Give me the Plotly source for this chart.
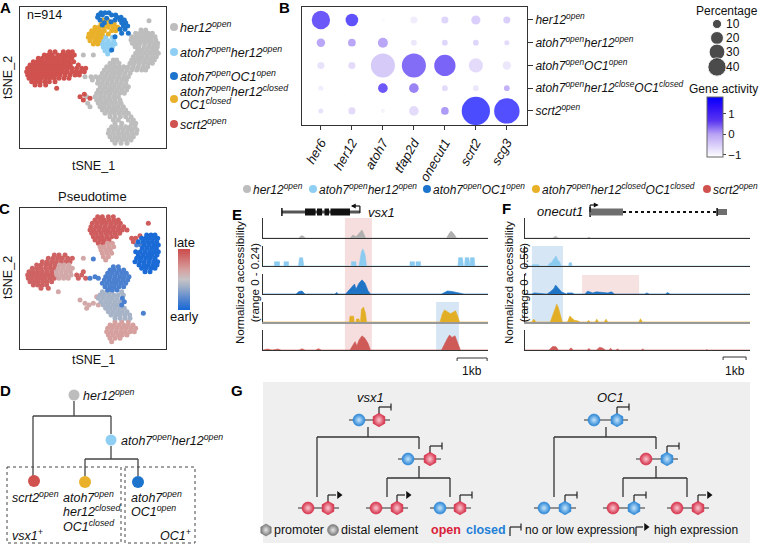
import plotly.graph_objects as go

W, H = 761, 544
FONT = "Arial, Liberation Sans, sans-serif"


def fx(p):
    return p / W


def fy(p):
    return 1 - p / H


def rows_to_xy(spec):
    xs, ys = [], []
    for row in spec.split("|"):
        yv, xl = row.split(":")
        for xv in xl.split():
            xs.append(float(xv))
            ys.append(float(yv))
    return xs, ys


def pairs(spec):
    xs, ys = [], []
    for p in spec.split():
        a, b = p.split(",")
        xs.append(float(a))
        ys.append(float(b))
    return xs, ys


# ======================= DATA =======================
# Panel A: tSNE embedding, points per chromatin-state group (arbitrary tSNE units, tSNE_2 grows downward)
A_her12_open = (
    "62:402|90:378 392|100:362 375 388 400 412|110:350 362 374 386 398 410 420|"
    "120:348 360 372 384 396 408 422|130:352 364 376 390 404 418 428|140:360 372 388 402 415 427|"
    "150:368 382 396 410 424|160:362 376 390 404 418 430|170:355 368 382 396 410 424|"
    "180:295 305 350 362 376 390 404 418|190:285 298 312 345 358 372 386 400 412|"
    "200:275 288 300 313 326 340 355 370 385 398|210:268 282 295 308 320 335 350 365 380 392|"
    "220:262 276 290 303 316 330 345|230:210 228 242 256 270 284 298 312 326 340|"
    "240:232 250 264 278 292 306 320 334|250:248 262 276 290 304 318 332|"
    "260:256 270 284 298 312 326 340|270:250 264 278 292 306 320 335|280:245 258 272 286 300 314 328|"
    "290:215 240 254 268 282 296 310|300:245 258 272 286 300 315|310:218 250 263 276 290 304 318|"
    "320:225 255 268 282 296 310 325|330:262 276 290 304 318 332|340:270 284 298 312 326 340|"
    "350:285 300 316 332 348|360:295 310 340 355|370:300 320 350 362|380:290 304 318 332 346 360|"
    "390:282 296 310 324 338 352 366|400:280 294 308 322 336 350 364|410:285 299 313 327 341 355|"
    "420:292 306 320 334 348|430:300 318 336|165:205 235"
)
A_scrt2_open = (
    "155:105 120 145 160 172|165:88 100 112 128 140 152 165 178|175:70 82 95 108 120 133 146 158 170|"
    "185:55 66 78 90 102 115 127 139 150 163 176|195:45 57 69 81 93 105 117 129 141 153 166 190|"
    "205:38 50 62 74 86 98 110 122 134 146 158 171 185 200 212|"
    "215:35 47 59 71 83 95 107 119 131 143 156 170 183 196 208|"
    "225:38 50 62 74 86 98 110 122 135 150 165 180 193|235:42 55 67 79 92 104 118 132 147 162|"
    "245:50 63 76 90 103 120|255:60 75 92|265:125|290:195|283:208|295:225|300:205"
)
A_atoh7_her12 = "112:272 292|122:265 280 296|132:262 275 288 300|142:265 278 292|152:270 284|162:278"
A_atoh7_closed = (
    "60:265 278|72:258 272 285 298|82:240 252 266 280 295 308|92:230 242 255 268 290 302|"
    "102:222 235 248 262 280|112:220 232 245 258|122:225 240 252|132:235 248"
)
A_atoh7_OC1 = (
    "38:258 270 282|45:250 262 290 302|52:248 306 318|60:255 300 315 328|68:268 320 332|"
    "78:325 338|88:315 330|100:320 340|110:300|150:290|55:275|65:288|75:262"
)

# Panel B: dot plot
B_genes = ["her6", "her12", "atoh7", "tfap2d", "onecut1", "scrt2", "scg3"]
B_groups = [
    "her12<sup>open</sup>",
    "atoh7<sup>open</sup>her12<sup>open</sup>",
    "atoh7<sup>open</sup>OC1<sup>open</sup>",
    "atoh7<sup>open</sup>her12<sup>close</sup>OC1<sup>closed</sup>",
    "scrt2<sup>open</sup>",
]
B_pct = [
    [40, 19, 2, 6, 6, 10, 6],
    [8.5, 7, 12, 4, 4, 4, 3],
    [6, 6, 69, 69, 54, 24, 8.5],
    [3, 0.5, 11, 11, 4, 4, 4],
    [3, 6, 2, 11, 7, 95, 77],
]
B_act = [
    [1.3, 1.5, -1.0, -0.8, -0.4, -0.3, -0.3],
    [0.2, 0.2, 0.2, -0.7, -0.4, -0.4, -0.5],
    [-0.6, -0.5, -0.2, 0.8, 1.0, -0.5, -0.7],
    [-0.8, -1.0, 1.3, 0.5, -0.5, -0.7, 0.1],
    [-0.6, -0.5, -0.9, -0.5, 0.3, 1.8, 1.7],
]
B_size_legend = [10, 20, 30, 40]
B_act_ticks = [-1, 0, 1]

# Panel C: tSNE coloured by pseudotime (0 = early, 1 = late)
C_groups = [
    (0.92, "35:248 262 280 295|45:240 254 268 282 296 310|55:232 246 260 274 288 302 316|"
           "65:228 242 256 270 284 298 312 326|75:225 238 252 266 280 294 308 322 336|"
           "85:230 244 258 272 286 300 314|95:235 248 262 276 290 304|105:240 254 268 282|"
           "115:250 264|55:400|100:350 362|92:375|110:355"),
    (0.66, "115:278 292|125:255 268 282 296|135:258 272 286|145:262 276 290|155:265 280|165:272"),
    (0.9, "150:118 132 150|160:100 114 128 142 158 172|170:82 96 110 124 138 152 165|"
          "180:65 78 92 106 120|190:52 65 78 92 106 118|200:42 55 68 82 96 110|"
          "210:38 50 62 75 88 100 112|220:40 52 65 78 90 104 118|230:45 58 70 83 96 110|"
          "240:55 68 82 95|250:78 100|210:185 200|220:190 212|200:205"),
    (0.62, "180:134 148 162|190:130 144 158 172|200:124 138 152 166|210:126 140 154 168|"
           "220:132 146 160|260:130|285:195|295:210 235|300:222 250|310:215|275:245|160:205"),
    (0.66, "350:300 320 340|360:285 298 312 326 340 354|370:278 292 306 320 334 348 362|"
           "380:275 289 303 317 331 345 358|390:280 294 308 322 336|400:285 300 315|410:290"),
    (0.4, "260:262 276 290 320|270:255 268 282 296 310 325|280:250 264 278 292 306|"
          "290:258 272 286 300 314|300:265 279 293 307|310:272 286 300 314 328|"
          "320:280 294 308 322 336|330:288 302 316 330 344|340:300 315 330 345"),
    (0.15, "185:295 310|195:285 298 312 326|205:278 292 306 320 334|215:272 286 300 314 328 342|"
           "225:268 282 296 310 324 338|235:262 276 290 304 318 332|245:270 284 298 312 326|"
           "255:278 292 306|220:225 250|215:240|162:235|300:320|290:328|280:322|325:385|120:365 378"),
    (0.02, "90:395 408 420|100:380 392 404 416 428|110:370 385 398 412 425|"
           "120:388 402 416 430|130:382 396 410 424|140:362 376 390 404 418 430|"
           "150:370 384 398 412 426|160:365 378 392 406 420|170:360 374 388 402 416 428|"
           "180:372 386 400 414 426|190:380 394 408 420|200:390 405"),
]

# Panels E/F: normalized accessibility profiles (x in kb, y accessibility)
E_profiles = [
    "0,0 1.18,0 1.3,.03 1.42,0 2.9,0 3.0,.036 3.1,.015 3.2,.06 3.3,.096 3.42,0 6.12,0 6.2,.05 "
    "6.27,.084 6.36,.05 6.45,0 7.5,0",
    "0,0 .38,0 .38,.05 .55,.05 .55,0 .7,0 .7,.05 .85,.05 .85,0 1.18,0 1.22,.1 1.32,.1 1.36,0 "
    "2.95,0 2.95,.05 3.1,.05 3.1,0 3.2,0 3.28,.17 3.33,.205 3.4,.14 3.45,0 4.9,0 4.9,.05 5.05,.05 "
    "5.05,0 5.1,0 5.1,.05 5.25,.05 5.25,0 6.5,0 6.52,.1 6.65,.1 6.68,0 6.72,0 6.74,.1 6.86,.1 6.88,0 "
    "6.9,0 6.92,.1 7.04,.1 7.06,0 7.5,0",
    "0,0 1.1,0 1.2,.03 1.3,.036 1.4,0 2.4,0 2.45,.018 2.52,0 2.75,0 2.85,.04 2.95,.08 3.05,.12 "
    "3.1,.06 3.2,.13 3.3,.17 3.4,.13 3.5,.04 3.58,0 5.95,0 6.05,.02 6.15,.036 6.3,.03 6.45,.02 "
    "6.6,.01 6.7,0 7.5,0",
    "0,0 2.88,0 2.9,.07 3.02,.07 3.04,0 3.1,0 3.12,.036 3.2,.036 3.22,0 3.25,0 3.28,.15 3.35,.18 "
    "3.42,.1 3.45,0 5.9,0 5.98,.1 6.05,.145 6.15,.12 6.25,.1 6.35,.12 6.42,.135 6.5,.06 6.55,0 7.5,0",
    "0,0 .15,.012 .3,0 .5,.012 .6,0 1.2,0 1.3,.015 1.4,0 1.75,0 1.85,.015 1.95,0 2.9,0 3.0,.06 "
    "3.07,.1 3.13,.05 3.2,.12 3.3,.17 3.4,.14 3.5,.08 3.58,0 5.95,0 6.05,.08 6.15,.14 6.22,.18 "
    "6.3,.15 6.4,.17 6.48,.1 6.58,0 7.5,0",
]
F_profiles = [
    "0,0 1.2,0 1.33,.05 1.45,0 2.7,0 2.78,.025 2.86,0 9.78,0",
    "0,0 .3,0 .32,.035 .6,.035 .62,0 1.0,0 1.05,.06 1.15,.1 1.28,.22 1.35,.28 1.42,.17 1.5,.12 "
    "1.58,0 1.9,0 1.92,.09 2.02,.09 2.04,0 9.78,0",
    "0,0 .3,0 .4,.03 .55,.02 .7,0 .95,0 1.1,.06 1.25,.15 1.33,.25 1.45,.15 1.6,.05 1.7,.03 1.8,0 "
    "1.85,.03 2.05,.03 2.15,0 2.6,0 2.72,.08 2.85,.04 2.95,.03 3.1,.06 3.25,.05 3.4,.03 3.6,.03 "
    "3.75,.06 3.9,0 5.2,0 5.3,.03 5.4,0 6.1,0 6.2,.04 6.3,0 9.78,0",
    "0,0 .3,0 .38,.08 .48,0 1.1,0 1.2,.2 1.3,.35 1.38,.5 1.45,.4 1.55,.2 1.62,0 1.85,0 1.95,.17 "
    "2.05,.1 2.15,.05 2.3,.03 2.4,0 2.7,0 2.75,.04 2.85,0 3.05,0 3.12,.08 3.2,0 3.45,0 3.52,.08 "
    "3.6,0 4.95,0 5.02,.09 5.1,0 9.78,0",
    "0,0 1.05,0 1.2,.1 1.35,.09 1.45,0 1.9,0 2.0,.06 2.1,0 2.7,0 2.78,.04 2.86,0 3.1,0 3.25,.08 "
    "3.38,.05 3.5,0 3.65,0 3.72,.05 3.8,0 3.95,0 4.02,.03 4.1,0 5.05,0 5.12,.03 5.2,0 7.85,0 "
    "7.9,.015 7.95,0 9.78,0",
]
E_range_max = 0.24
F_range_max = 0.56
E_len_kb = 7.5
F_len_kb = 9.78

# Panel G: chromatin states of (distal element, promoter) and expression per tree node
G_states = [
    ("closed", "open", "low"), ("closed", "open", "low"),
    ("open", "open", "high"), ("open", "open", "high"), ("closed", "open", "low"),
    ("closed", "closed", "low"), ("open", "closed", "low"),
    ("closed", "closed", "low"), ("open", "closed", "low"), ("open", "open", "high"),
]

# ======================= STYLE / LAYOUT =======================
GRP_COL = {
    "her12": "#bdbdbd", "atoh7_her12": "#8fcff3", "atoh7_OC1": "#1c74cc",
    "atoh7_closed": "#e9b12a", "scrt2": "#d0524f",
}
TRACK_COL = ["#b0b0b0", "#8ccbf0", "#1f74c6", "#e2ae25", "#cf5b58"]
OPEN_EDGE, OPEN_CEN = "#d6304a", "#f9c9d0"
CLOSED_EDGE, CLOSED_CEN = "#2a86d6", "#c6e4fa"

fig = go.Figure()
axes = {}


def axn(i, a):
    return f"{a}axis" if i == 1 else f"{a}axis{i}"


def rf(i, a):
    return a if i == 1 else f"{a}{i}"


def set_axes(i, x0, x1, y0, y1, xkw, ykw):
    axes[axn(i, "x")] = dict(domain=[fx(x0), fx(x1)], anchor=rf(i, "y"), **xkw)
    axes[axn(i, "y")] = dict(domain=[fy(y1), fy(y0)], anchor=rf(i, "x"), **ykw)


BOX = dict(showline=True, mirror=True, linecolor="#333", linewidth=1, showticklabels=False,
           ticks="", showgrid=False, zeroline=False)

# --- A ---
set_axes(1, 20, 166, 7, 148, dict(range=[15, 453], **BOX), dict(range=[444, 21], **BOX))
for key, spec in [("her12", A_her12_open), ("scrt2", A_scrt2_open), ("atoh7_her12", A_atoh7_her12),
                  ("atoh7_closed", A_atoh7_closed), ("atoh7_OC1", A_atoh7_OC1)]:
    xs, ys = rows_to_xy(spec)
    fig.add_trace(go.Scatter(x=xs, y=ys, mode="markers", xaxis="x", yaxis="y", hoverinfo="skip",
                             marker=dict(size=5, color=GRP_COL[key], line=dict(width=0))))

# --- B ---
ACT_CS = [[0, "#ffffff"], [0.38, "#b8a2f5"], [0.6, "#5a36f0"], [0.85, "#2a0cf8"], [1, "#0000ff"]]
SIZEREF = 1 / 2.05 ** 2
bx, by, bs, bc = [], [], [], []
for r in range(len(B_groups)):
    for c in range(len(B_genes)):
        bx.append(c); by.append(r); bs.append(B_pct[r][c]); bc.append(B_act[r][c])
set_axes(2, 302, 527, 7, 125,
         dict(range=[-0.61, 6.65], tickvals=list(range(7)), ticktext=[f"<i>{g}</i>" for g in B_genes],
              tickangle=-60, ticks="outside", ticklen=4, tickcolor="#333", showline=True, mirror=True,
              linecolor="#333", showgrid=False, zeroline=False, tickfont=dict(size=13, color="#111")),
         dict(range=[4.62, -0.57], tickvals=list(range(5)), ticktext=[f"<i>{g}</i>" for g in B_groups],
              side="right", ticks="outside", ticklen=5, tickcolor="#333", showline=True, mirror=True,
              linecolor="#333", showgrid=False, zeroline=False, tickfont=dict(size=12, color="#111")))
fig.add_trace(go.Scatter(
    x=bx, y=by, mode="markers", xaxis="x2", yaxis="y2", hoverinfo="skip",
    marker=dict(size=bs, sizemode="area", sizeref=SIZEREF, sizemin=1, color=bc, colorscale=ACT_CS,
                cmin=-1.1, cmax=1.8, line=dict(width=0),
                colorbar=dict(x=fx(707), xanchor="left", y=fy(157), yanchor="bottom", len=60,
                              lenmode="pixels", thickness=16, thicknessmode="pixels", xpad=0, ypad=0,
                              outlinewidth=1, outlinecolor="#666", tickvals=B_act_ticks, ticks="outside",
                              ticklen=3, tickfont=dict(size=11.5, color="#111")))))

# --- C ---
PT_CS = [[0, "#1468d8"], [0.15, "#4a80cf"], [0.4, "#a7b3c7"], [0.5, "#c6c2c6"], [0.65, "#d5a3a1"],
         [0.9, "#cf6262"], [1, "#cd4b4b"]]
set_axes(3, 20, 166, 208, 349, dict(range=[15, 453], **BOX), dict(range=[432, 9], **BOX))
cx, cy, cc = [], [], []
for val, spec in C_groups:
    xs, ys = rows_to_xy(spec)
    cx += xs; cy += ys; cc += [val] * len(xs)
fig.add_trace(go.Scatter(
    x=cx, y=cy, mode="markers", xaxis="x3", yaxis="y3", hoverinfo="skip",
    marker=dict(size=5, color=cc, colorscale=PT_CS, cmin=0, cmax=1, line=dict(width=0),
                colorbar=dict(x=fx(178), xanchor="left", y=fy(310), yanchor="bottom", len=61,
                              lenmode="pixels", thickness=12, thicknessmode="pixels", xpad=0, ypad=0,
                              outlinewidth=0, showticklabels=False, ticks=""))))

# --- E / F tracks ---
TRK_TOP = [218, 246, 274, 302, 330]
for k in range(5):
    for base, x0, x1, xmax, ymax, profs in [(4, 263, 488, E_len_kb, E_range_max, E_profiles),
                                             (9, 525, 750, F_len_kb, F_range_max, F_profiles)]:
        i = base + k
        lc = "#999" if k == 3 else "#333"
        lw = 2 if k == 3 else 1
        set_axes(i, x0, x1, TRK_TOP[k], TRK_TOP[k] + 20,
                 dict(range=[0, xmax], showline=True, linecolor=lc, linewidth=lw, ticks="",
                      showticklabels=False, showgrid=False, zeroline=False),
                 dict(range=[0, ymax], showline=True, linecolor="#333", linewidth=1, ticks="",
                      showticklabels=False, showgrid=False, zeroline=False))
        xs, ys = pairs(profs[k])
        fig.add_trace(go.Scatter(x=xs, y=ys, mode="lines", fill="tozeroy", xaxis=rf(i, "x"),
                                 yaxis=rf(i, "y"), hoverinfo="skip",
                                 line=dict(color=TRACK_COL[k], width=0.6), fillcolor=TRACK_COL[k]))

# --- overlay (pixel coordinates) for schematic pieces ---
set_axes(14, 0, W, 0, H, dict(range=[0, W], visible=False, fixedrange=True),
         dict(range=[H, 0], visible=False, fixedrange=True))

shapes = []
annos = []


def seg(x0, y0, x1, y1, color="#333", width=1.2, dash=None, layer="below"):
    shapes.append(dict(type="line", xref="x14", yref="y14", x0=x0, y0=y0, x1=x1, y1=y1, layer=layer,
                       line=dict(color=color, width=width, dash=dash)))


def text(x, y, s, size=13, xanchor="left", color="#111", angle=0, yanchor="middle"):
    annos.append(dict(x=x, y=y, xref="x14", yref="y14", text=s, showarrow=False, xanchor=xanchor,
                      yanchor=yanchor, textangle=angle, font=dict(size=size, color=color, family=FONT)))


def dots(xs, ys, colors, size=9, symbol="circle", grad=None, line=None):
    m = dict(size=size, color=colors, symbol=symbol, line=line or dict(width=0))
    if grad:
        m["gradient"] = dict(type="radial", color=grad)
    fig.add_trace(go.Scatter(x=xs, y=ys, mode="markers", xaxis="x14", yaxis="y14", hoverinfo="skip",
                             marker=m))


# panel letters
for L, x, y in [("A", 5, 7), ("B", 284, 7), ("C", 4, 208), ("D", 5, 390), ("E", 237, 214), ("F", 506, 208),
                ("G", 237, 390)]:
    text(x, y, f"<b>{L}</b>", size=15, xanchor="center", color="#000")

# A legend & labels
text(25, 15, "n=914", size=12.5)
text(8, 78, "tSNE_2", size=12.5, xanchor="center", angle=-90)
text(93, 166, "tSNE_1", size=12.5, xanchor="center")
A_leg = [("her12", 27, "<i>her12<sup>open</sup></i>"),
         ("atoh7_her12", 52, "<i>atoh7<sup>open</sup>her12<sup>open</sup></i>"),
         ("atoh7_OC1", 76, "<i>atoh7<sup>open</sup>OC1<sup>open</sup></i>"),
         ("atoh7_closed", 99, None), ("scrt2", 124, "<i>scrt2<sup>open</sup></i>")]
dots([174] * 5, [v[1] for v in A_leg], [GRP_COL[v[0]] for v in A_leg], size=8)
for key, y, s in A_leg:
    if s:
        text(178, y, s, size=12.5)
text(178, 91, "<i>atoh7<sup>open</sup>her12<sup>closed</sup></i>", size=12.5)
text(178, 104, "<i>OC1<sup>closed</sup></i>", size=12.5)

# B legends
text(760, 11, "Percentage", size=12, xanchor="right")
fig.add_trace(go.Scatter(x=[717] * 4, y=[24, 38, 52, 67], mode="markers", xaxis="x14", yaxis="y14",
                         hoverinfo="skip",
                         marker=dict(size=B_size_legend, sizemode="area", sizeref=SIZEREF, color="#000")))
for v, y in zip(B_size_legend, [24, 38, 52, 67]):
    text(724, y, str(v), size=12)
text(760, 89, "Gene activity", size=12, xanchor="right")

# C labels
text(92, 196, "Pseudotime", size=13, xanchor="center")
text(8, 278, "tSNE_2", size=12.5, xanchor="center", angle=-90)
text(93, 360, "tSNE_1", size=12.5, xanchor="center")
text(184, 242, "late", size=13, xanchor="center")
text(184, 316, "early", size=13, xanchor="center")

# D lineage tree
for (a, b), (c, d) in [((74, 401), (74, 416)), ((33, 416), (111, 416)), ((33, 416), (33, 476)),
                       ((111, 416), (111, 434)), ((111, 446), (111, 459)), ((85, 459), (138, 459)),
                       ((85, 459), (85, 476)), ((138, 459), (138, 476))]:
    seg(a, b, c, d, color="#444", width=1.3)
for x0, x1 in [(7, 121), (125, 195)]:
    shapes.append(dict(type="rect", xref="x14", yref="y14", x0=x0, x1=x1, y0=467, y1=543, layer="below",
                       line=dict(color="#444", width=1, dash="dot")))
dots([74, 111], [395, 440], [GRP_COL["her12"], GRP_COL["atoh7_her12"]], size=11)
dots([34, 85, 138], [481, 482, 482], [GRP_COL["scrt2"], GRP_COL["atoh7_closed"], GRP_COL["atoh7_OC1"]],
     size=12)
text(81, 395, "<i>her12<sup>open</sup></i>", size=12.5)
text(119, 440, "<i>atoh7<sup>open</sup>her12<sup>open</sup></i>", size=12.5)
text(10, 497, "<i>scrt2<sup>open</sup></i>", size=12.5)
text(61, 497, "<i>atoh7<sup>open</sup></i>", size=12.5)
text(61, 511, "<i>her12<sup>closed</sup></i>", size=12.5)
text(61, 526, "<i>OC1<sup>closed</sup></i>", size=12.5)
text(129, 497, "<i>atoh7<sup>open</sup></i>", size=12.5)
text(129, 511, "<i>OC1<sup>open</sup></i>", size=12.5)
text(10, 535, "<i>vsx1<sup>+</sup></i>", size=12.5)
text(193, 535, "<i>OC1<sup>+</sup></i>", xanchor="right", size=12.5)

# E / F shared legend
E_leg = [("her12", 247, "<i>her12<sup>open</sup></i>"),
         ("atoh7_her12", 313, "<i>atoh7<sup>open</sup>her12<sup>open</sup></i>"),
         ("atoh7_OC1", 427, "<i>atoh7<sup>open</sup>OC1<sup>open</sup></i>"),
         ("atoh7_closed", 536, "<i>atoh7<sup>open</sup>her12<sup>closed</sup>OC1<sup>closed</sup></i>"),
         ("scrt2", 707, "<i>scrt2<sup>open</sup></i>")]
dots([v[1] for v in E_leg], [189] * 5, [GRP_COL[v[0]] for v in E_leg], size=8)
for key, x, s in E_leg:
    text(x + 4, 189, s, size=12)
text(247, 283, "Normalized accessibility<br>(range 0 - 0.24)", size=11.5, xanchor="center", angle=-90)
text(516, 283, "Normalized accessibility<br>(range 0 - 0.56)", size=11.5, xanchor="center", angle=-90)

# highlight boxes (genomic kb on track axes, vertical extent in page)
for xr, x0, x1, top, bot, col in [("x4", 2.73, 3.63, 218, 350, "#f7dede"),
                                  ("x4", 5.77, 6.53, 302, 350, "#d7e6f4"),
                                  ("x9", 0.30, 1.65, 246, 322, "#d7e6f4"),
                                  ("x9", 2.48, 4.96, 275, 294, "#f7e2e2")]:
    shapes.append(dict(type="rect", xref=xr, yref="paper", x0=x0, x1=x1, y0=fy(bot), y1=fy(top),
                       layer="below", line=dict(width=0), fillcolor=col))


def gline(xr, x0, x1, y, color, width, dash=None):
    shapes.append(dict(type="line", xref=xr, yref="paper", x0=x0, x1=x1, y0=fy(y), y1=fy(y),
                       line=dict(color=color, width=width, dash=dash)))


def gvl(xr, x, y0, y1, color="#111", width=1.2):
    shapes.append(dict(type="line", xref=xr, yref="paper", x0=x, x1=x, y0=fy(y0), y1=fy(y1),
                       line=dict(color=color, width=width)))


def grect(xr, x0, x1, y0, y1, color):
    shapes.append(dict(type="rect", xref=xr, yref="paper", x0=x0, x1=x1, y0=fy(y1), y1=fy(y0),
                       line=dict(width=0), fillcolor=color))


# E gene model: vsx1 (minus strand)
gline("x4", 0.63, 3.23, 212, "#555", 3)
gvl("x4", 0.63, 208, 216, width=1.5)
for a, b in [(1.40, 1.75), (1.80, 1.97), (2.05, 2.2), (2.25, 2.9)]:
    grect("x4", a, b, 208.5, 215.5, "#111")
gvl("x4", 3.23, 213, 206)
gline("x4", 2.98, 3.23, 206, "#111", 1.2)
annos.append(dict(x=2.93, y=fy(206), xref="x4", yref="paper", ax=6, ay=0, axref="pixel", ayref="pixel",
                  showarrow=True, arrowhead=2, arrowsize=0.8, arrowwidth=1.2, arrowcolor="#111", text=""))
text(366, 212, "<i>vsx1</i>", size=13)
# F gene model: onecut1 (plus strand)
gvl("x9", 2.83, 207, 217, width=1.5)
grect("x9", 2.83, 4.26, 208.5, 215.5, "#6e6e6e")
gline("x9", 4.26, 8.35, 212, "#111", 2, dash="dot")
grect("x9", 8.35, 8.78, 209, 215, "#6e6e6e")
gvl("x9", 8.35, 208, 216, width=1.5)
gvl("x9", 2.83, 212, 205)
gline("x9", 2.83, 3.1, 205, "#111", 1.2)
annos.append(dict(x=3.2, y=fy(205), xref="x9", yref="paper", ax=-6, ay=0, axref="pixel", ayref="pixel",
                  showarrow=True, arrowhead=2, arrowsize=0.8, arrowwidth=1.2, arrowcolor="#111", text=""))
text(585, 211, "<i>onecut1</i>", size=13, xanchor="right")

# scale bars (1 kb on the track axes)
for xr, a, y in [("x8", 6.47, 358), ("x13", 8.61, 357)]:
    gline(xr, a, a + 1, y, "#333", 1)
    gvl(xr, a, y, y + 3, color="#333", width=1)
    gvl(xr, a + 1, y, y + 3, color="#333", width=1)
text(472, 371, "1kb", size=12, xanchor="center")
text(735, 371, "1kb", size=12, xanchor="center")

# G schematic
shapes.append(dict(type="rect", xref="paper", yref="paper", x0=fx(263), x1=fx(750), y0=fy(543), y1=fy(382),
                   layer="below", line=dict(width=0), fillcolor="#efefef"))
text(370, 397, "<i>vsx1</i>", size=13, xanchor="center")
text(610, 397, "<i>OC1</i>", size=13, xanchor="center")
G_pos = [(359, 379, 420), (408, 430, 459), (308, 328, 508), (376, 397, 508), (440, 460, 508),
         (594, 617, 420), (646, 667, 459), (544, 565, 508), (613, 634, 508), (677, 698, 508)]
for (a, b), (c, d) in [((368, 427), (368, 437)), ((317, 437), (419, 437)), ((317, 437), (317, 497)),
                       ((419, 437), (419, 449)), ((419, 466), (419, 478)), ((387, 478), (450, 478)),
                       ((387, 478), (387, 497)), ((450, 478), (450, 497)),
                       ((606, 427), (606, 437)), ((554, 437), (656, 437)), ((554, 437), (554, 497)),
                       ((656, 437), (656, 449)), ((656, 466), (656, 478)), ((623, 478), (687, 478)),
                       ((623, 478), (623, 497)), ((687, 478), (687, 497))]:
    seg(a, b, c, d, color="#333", width=1.3)
arrow_x, arrow_y = [], []
for (cxp, hxp, y), (cs, hs, ex) in zip(G_pos, G_states):
    seg(cxp - 10, y, hxp + 11, y, color="#333", width=1.2)
    seg(hxp, y - 6, hxp, y - 13, color="#222", width=1.2)
    if ex == "low":
        seg(hxp, y - 13, hxp + 12, y - 13, color="#222", width=1.2)
        seg(hxp + 12, y - 16.5, hxp + 12, y - 9.5, color="#222", width=1.2)
    else:
        seg(hxp, y - 13, hxp + 8, y - 13, color="#222", width=1.2)
        arrow_x.append(hxp + 11); arrow_y.append(y - 13)
    for x, st, sym, sz in [(cxp, cs, "circle", 12), (hxp, hs, "hexagon", 13.5)]:
        edge, cen = (OPEN_EDGE, OPEN_CEN) if st == "open" else (CLOSED_EDGE, CLOSED_CEN)
        dots([x], [y], [edge], size=sz, symbol=sym, grad=cen, line=dict(width=0.6, color=edge))
dots(arrow_x + [646], arrow_y + [527], ["#111"] * (len(arrow_x) + 1), size=7, symbol="triangle-right")
# G legend
dots([266], [530], ["#7a7a7a"], size=12, symbol="hexagon", grad="#e6e6e6",
     line=dict(width=0.6, color="#7a7a7a"))
dots([333], [530], ["#7a7a7a"], size=11, symbol="circle", grad="#e6e6e6",
     line=dict(width=0.6, color="#7a7a7a"))
text(272, 530, "promoter", size=12.5)
text(339, 530, "distal element", size=12.5)
text(429, 530, "<b>open</b>", size=12.5, color="#d9203a")
text(464, 530, "<b>closed</b>", size=12.5, color="#1f7fd6")
seg(510, 536, 510, 527, color="#222", width=1.2, layer="above")
seg(510, 527, 521, 527, color="#222", width=1.2, layer="above")
seg(521, 523.5, 521, 530.5, color="#222", width=1.2, layer="above")
text(523, 530, "no or low expression", size=12)
seg(636, 536, 636, 527, color="#222", width=1.2, layer="above")
seg(636, 527, 643, 527, color="#222", width=1.2, layer="above")
text(652, 530, "high expression", size=12)

fig.update_layout(
    width=W, height=H, autosize=False, margin=dict(l=0, r=0, t=0, b=0),
    paper_bgcolor="white", plot_bgcolor="rgba(0,0,0,0)", showlegend=False,
    font=dict(family=FONT, size=12, color="#111"),
    shapes=shapes, annotations=annos, **axes,
)
fig.write_html("out.html", config={"displayModeBar": False},
               post_script="document.body.style.margin='0px';document.body.style.overflow='hidden';")
